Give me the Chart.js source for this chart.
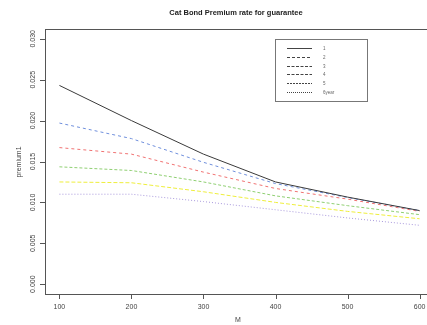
<!DOCTYPE html>
<html><head><meta charset="utf-8">
<script src="https://cdn.jsdelivr.net/npm/chart.js@4/dist/chart.umd.min.js"></script>
<style>
html,body{margin:0;padding:0;background:#fff;overflow:hidden;}
#wrap{width:427px;height:325px;overflow:hidden;position:relative;}
canvas{display:block;}
</style></head>
<body><div id="wrap"><canvas id="c" width="440" height="325"></canvas></div>
<script>
const title = "Cat Bond Premium rate for guarantee";
const xTitle = "M";
const yTitle = "premium1";
const M = [100, 200, 300, 400, 500, 600];
const xTicks = [100, 200, 300, 400, 500, 600];
const yTicks = [0.000, 0.005, 0.010, 0.015, 0.020, 0.025, 0.030];
const legendLabels = ["1", "2", "3", "4", "5", "6year"];
const s1 = [0.0243, 0.0200, 0.0159, 0.0125, 0.01065, 0.0090];
const s2 = [0.0197, 0.0178, 0.0149, 0.0123, 0.0106, 0.0090];
const s3 = [0.0167, 0.0159, 0.0137, 0.0117, 0.0104, 0.0089];
const s4 = [0.01435, 0.0139, 0.0125, 0.0108, 0.0096, 0.0085];
const s5 = [0.0125, 0.0124, 0.0113, 0.0100, 0.0089, 0.0080];
const s6 = [0.0110, 0.0110, 0.0101, 0.0091, 0.0081, 0.0072];

const seriesList = [s1, s2, s3, s4, s5, s6];
const colors = ["#3a3a3a", "#6f8fdc", "#f07272", "#8fcf72", "#eeee3c", "#a898dc"];
const dashes = [[], [3, 3], [3, 3], [3, 2], [4, 2], [1, 2]];
const legendDashes = [[], [3, 2], [3, 1.5], [3, 1.5], [2, 1], [1, 1]];

const datasets = seriesList.map((s, i) => ({
  label: legendLabels[i],
  data: s.map((v, j) => ({x: M[j], y: v})),
  borderColor: colors[i],
  borderWidth: 1,
  borderDash: dashes[i],
  pointRadius: 0,
  fill: false,
  tension: 0
}));

const deco = {
  id: 'deco',
  afterDraw(chart) {
    const ctx = chart.ctx, a = chart.chartArea;
    const xs = chart.scales.x, ys = chart.scales.y;
    ctx.save();
    // box
    ctx.strokeStyle = '#555'; ctx.lineWidth = 1;
    ctx.strokeRect(Math.round(a.left) + 0.5, Math.round(a.top) + 0.5, Math.round(a.right - a.left), Math.round(a.bottom - a.top));
    // ticks
    ctx.beginPath();
    xTicks.forEach(v => { const p = Math.round(xs.getPixelForValue(v)) + 0.5; ctx.moveTo(p, a.bottom); ctx.lineTo(p, a.bottom + 5); });
    yTicks.forEach(v => { const p = Math.round(ys.getPixelForValue(v)) + 0.5; ctx.moveTo(a.left, p); ctx.lineTo(a.left - 5, p); });
    ctx.stroke();
    // tick labels
    ctx.fillStyle = '#444';
    ctx.font = '7px "Liberation Sans", Arial, sans-serif';
    ctx.textAlign = 'center'; ctx.textBaseline = 'middle';
    xTicks.forEach(v => ctx.fillText(String(v), xs.getPixelForValue(v), 307));
    yTicks.forEach(v => {
      ctx.save(); ctx.translate(33, ys.getPixelForValue(v)); ctx.rotate(-Math.PI / 2);
      ctx.fillText(v.toFixed(3), 0, 0); ctx.restore();
    });
    // axis titles
    ctx.font = '7px "Liberation Sans", Arial, sans-serif';
    ctx.fillText(xTitle, 238, 320);
    ctx.save(); ctx.translate(19, 162); ctx.rotate(-Math.PI / 2); ctx.fillText(yTitle, 0, 0); ctx.restore();
    // title
    ctx.fillStyle = '#222';
    ctx.font = 'bold 7.5px "Liberation Sans", Arial, sans-serif';
    ctx.fillText(title, 236, 13);
    // legend
    ctx.strokeStyle = '#777';
    ctx.strokeRect(275.5, 39.5, 92, 62);
    ctx.font = '4.5px "Liberation Sans", Arial, sans-serif';
    ctx.textAlign = 'left';
    chart.data.datasets.forEach((d, i) => {
      const y = Math.round(48 + i * 8.8) + 0.5;
      ctx.strokeStyle = '#444';
      ctx.setLineDash(legendDashes[i]);
      ctx.beginPath(); ctx.moveTo(287, y); ctx.lineTo(312, y); ctx.stroke();
      ctx.setLineDash([]);
      ctx.fillStyle = '#666';
      ctx.fillText(d.label, 323, y);
    });
    ctx.restore();
  }
};

new Chart(document.getElementById('c'), {
  type: 'line',
  data: {datasets},
  options: {
    responsive: false,
    animation: false,
    devicePixelRatio: 1,
    layout: {padding: {top: 29, right: 6, left: 0, bottom: 0}},
    plugins: {legend: {display: false}, tooltip: {enabled: false}, title: {display: false}},
    scales: {
      x: {
        type: 'linear', min: 80, max: 620,
        afterBuildTicks: s => { s.ticks = xTicks.map(v => ({value: v})); },
        afterFit: s => { s.height = 31; },
        grid: {display: false}, border: {display: false},
        ticks: {display: false}
      },
      y: {
        type: 'linear', min: -0.0012, max: 0.0312,
        afterBuildTicks: s => { s.ticks = yTicks.map(v => ({value: v})); },
        afterFit: s => { s.width = 45; },
        grid: {display: false}, border: {display: false},
        ticks: {display: false}
      }
    }
  },
  plugins: [deco]
});
</script>
</body></html>
